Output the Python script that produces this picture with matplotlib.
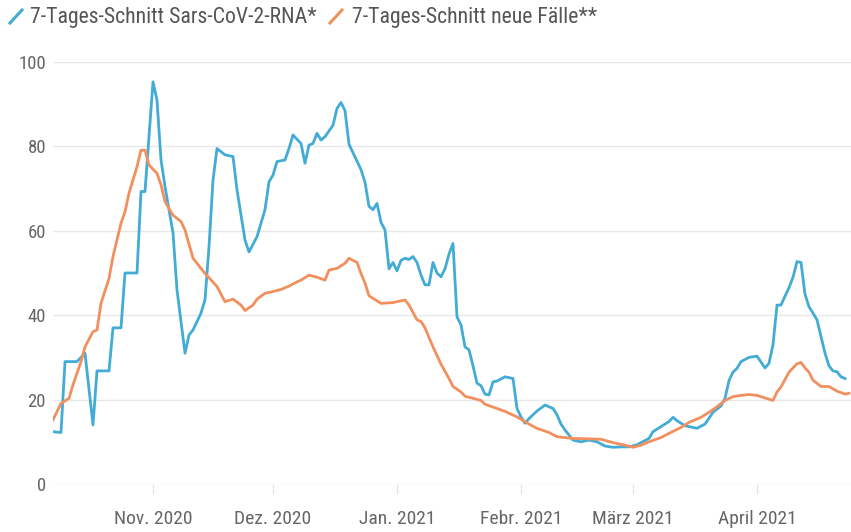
import pandas as pd
import matplotlib
matplotlib.use('Agg')
import matplotlib.pyplot as plt
from matplotlib.lines import Line2D

plt.rcParams['font.family'] = ['Roboto Condensed', 'Archivo Narrow', 'DejaVu Sans']

# 7-Tages-Schnitt Sars-CoV-2-RNA (Abwasser)
rna_dates = ['2020-10-07', '2020-10-09', '2020-10-10', '2020-10-13', '2020-10-15',
             '2020-10-17', '2020-10-18', '2020-10-21', '2020-10-22', '2020-10-24',
             '2020-10-25', '2020-10-28', '2020-10-29', '2020-10-30', '2020-11-01',
             '2020-11-02', '2020-11-03', '2020-11-04', '2020-11-06', '2020-11-07',
             '2020-11-09', '2020-11-10', '2020-11-11', '2020-11-13', '2020-11-14',
             '2020-11-15', '2020-11-16', '2020-11-17', '2020-11-19', '2020-11-21',
             '2020-11-22', '2020-11-24', '2020-11-25', '2020-11-27', '2020-11-29',
             '2020-11-30', '2020-12-01', '2020-12-02', '2020-12-04', '2020-12-05',
             '2020-12-06', '2020-12-08', '2020-12-09', '2020-12-10', '2020-12-11',
             '2020-12-12', '2020-12-13', '2020-12-14', '2020-12-16', '2020-12-17',
             '2020-12-18', '2020-12-19', '2020-12-20', '2020-12-21', '2020-12-23',
             '2020-12-24', '2020-12-25', '2020-12-26', '2020-12-27', '2020-12-28',
             '2020-12-29', '2020-12-30', '2020-12-31', '2021-01-01', '2021-01-02',
             '2021-01-03', '2021-01-04', '2021-01-05', '2021-01-06', '2021-01-07',
             '2021-01-08', '2021-01-09', '2021-01-10', '2021-01-11', '2021-01-12',
             '2021-01-13', '2021-01-14', '2021-01-15', '2021-01-16', '2021-01-17',
             '2021-01-18', '2021-01-19', '2021-01-20', '2021-01-21', '2021-01-22',
             '2021-01-23', '2021-01-24', '2021-01-25', '2021-01-26', '2021-01-28',
             '2021-01-30', '2021-01-31', '2021-02-01', '2021-02-02', '2021-02-03',
             '2021-02-05', '2021-02-07', '2021-02-09', '2021-02-10', '2021-02-11',
             '2021-02-12', '2021-02-14', '2021-02-16', '2021-02-18', '2021-02-20',
             '2021-02-22', '2021-02-24', '2021-02-26', '2021-02-28', '2021-03-02',
             '2021-03-04', '2021-03-05', '2021-03-06', '2021-03-08', '2021-03-10',
             '2021-03-11', '2021-03-12', '2021-03-14', '2021-03-17', '2021-03-19',
             '2021-03-21', '2021-03-23', '2021-03-24', '2021-03-25', '2021-03-26',
             '2021-03-27', '2021-03-28', '2021-03-30', '2021-04-01', '2021-04-03',
             '2021-04-04', '2021-04-05', '2021-04-06', '2021-04-07', '2021-04-08',
             '2021-04-09', '2021-04-10', '2021-04-11', '2021-04-12', '2021-04-13',
             '2021-04-14', '2021-04-15', '2021-04-16', '2021-04-17', '2021-04-18',
             '2021-04-19', '2021-04-20', '2021-04-21', '2021-04-22', '2021-04-23']
rna_values = [12.4, 12.2, 29.0, 29.0, 31.0,
              14.0, 26.8, 26.8, 37.0, 37.0,
              50.0, 50.0, 69.3, 69.3, 95.3,
              91.0, 76.8, 70.5, 59.5, 46.0,
              31.0, 35.3, 36.5, 40.5, 43.6,
              56.2, 72.0, 79.5, 78.0, 77.6,
              69.7, 57.8, 55.0, 58.6, 65.0,
              71.6, 73.2, 76.4, 76.8, 79.5,
              82.7, 80.7, 76.0, 80.3, 80.7,
              83.1, 81.5, 82.3, 85.0, 89.0,
              90.4, 88.5, 80.5, 78.5, 74.5,
              71.5, 65.8, 65.0, 66.5, 62.0,
              60.2, 51.0, 52.5, 50.5, 53.0,
              53.5, 53.2, 53.9, 52.5, 49.5,
              47.2, 47.2, 52.5, 50.0, 49.1,
              51.0, 54.5, 57.0, 39.6, 37.7,
              32.5, 31.8, 28.0, 23.9, 23.3,
              21.3, 21.1, 24.2, 24.4, 25.4,
              25.0, 17.9, 15.9, 14.4, 15.5,
              17.3, 18.7, 17.9, 16.4, 14.2,
              12.8, 10.4, 10.0, 10.4, 10.0,
              9.0, 8.7, 8.8, 8.8, 9.3,
              10.3, 10.8, 12.4, 13.6, 14.8,
              15.8, 15.0, 13.8, 13.2, 14.2,
              17.0, 18.5, 20.3, 24.5, 26.5,
              27.4, 29.0, 30.0, 30.3, 27.5,
              28.6, 33.0, 42.4, 42.4, 44.5,
              46.5, 49.0, 52.7, 52.5, 45.0,
              42.0, 40.5, 38.9, 35.0, 31.0,
              28.0, 26.8, 26.6, 25.4, 25.0]

# 7-Tages-Schnitt neue Fälle
cases_dates = ['2020-10-07', '2020-10-09', '2020-10-11', '2020-10-12', '2020-10-14',
               '2020-10-15', '2020-10-17', '2020-10-18', '2020-10-19', '2020-10-21',
               '2020-10-22', '2020-10-24', '2020-10-25', '2020-10-26', '2020-10-28',
               '2020-10-29', '2020-10-30', '2020-10-31', '2020-11-02', '2020-11-03',
               '2020-11-04', '2020-11-06', '2020-11-08', '2020-11-09', '2020-11-11',
               '2020-11-14', '2020-11-17', '2020-11-19', '2020-11-21', '2020-11-23',
               '2020-11-24', '2020-11-26', '2020-11-27', '2020-11-29', '2020-12-01',
               '2020-12-03', '2020-12-05', '2020-12-07', '2020-12-08', '2020-12-10',
               '2020-12-12', '2020-12-14', '2020-12-15', '2020-12-17', '2020-12-19',
               '2020-12-20', '2020-12-22', '2020-12-23', '2020-12-24', '2020-12-25',
               '2020-12-26', '2020-12-28', '2020-12-31', '2021-01-03', '2021-01-04',
               '2021-01-06', '2021-01-07', '2021-01-08', '2021-01-10', '2021-01-12',
               '2021-01-14', '2021-01-15', '2021-01-17', '2021-01-18', '2021-01-20',
               '2021-01-22', '2021-01-23', '2021-01-26', '2021-01-28', '2021-01-31',
               '2021-02-03', '2021-02-05', '2021-02-08', '2021-02-10', '2021-02-14',
               '2021-02-18', '2021-02-21', '2021-02-24', '2021-02-27', '2021-03-01',
               '2021-03-03', '2021-03-05', '2021-03-08', '2021-03-10', '2021-03-13',
               '2021-03-15', '2021-03-18', '2021-03-20', '2021-03-22', '2021-03-24',
               '2021-03-26', '2021-03-28', '2021-03-30', '2021-04-01', '2021-04-03',
               '2021-04-05', '2021-04-06', '2021-04-07', '2021-04-09', '2021-04-11',
               '2021-04-12', '2021-04-13', '2021-04-14', '2021-04-15', '2021-04-17',
               '2021-04-19', '2021-04-21', '2021-04-23', '2021-04-24']
cases_values = [15.2, 19.1, 20.3, 23.5, 29.0,
                32.5, 36.1, 36.5, 42.8, 48.7,
                53.9, 61.8, 64.5, 68.9, 75.2,
                79.1, 79.1, 75.6, 73.6, 70.9,
                66.9, 63.7, 62.2, 60.2, 53.5,
                49.9, 46.8, 43.2, 43.8, 42.4,
                41.1, 42.4, 43.8, 45.2, 45.6,
                46.1, 46.9, 47.9, 48.3, 49.5,
                49.0, 48.3, 50.7, 51.1, 52.3,
                53.5, 52.5, 49.9, 47.6, 44.6,
                44.0, 42.8, 43.0, 43.6, 42.4,
                38.9, 38.5, 37.0, 32.5, 28.4,
                25.0, 23.1, 21.8, 20.8, 20.3,
                19.8, 18.9, 17.9, 17.2, 15.9,
                14.2, 13.2, 12.2, 11.2, 10.8,
                10.7, 10.6, 9.8, 9.2, 8.7,
                9.2, 10.0, 11.0, 12.0, 13.4,
                14.6, 15.8, 17.0, 18.3, 19.8,
                20.7, 21.0, 21.2, 21.0, 20.4,
                19.8, 21.8, 23.0, 26.5, 28.5,
                28.8, 27.5, 26.5, 24.6, 23.1,
                23.1, 22.0, 21.3, 21.5]

month_ticks = ['2020-11-01', '2020-12-01', '2021-01-01', '2021-02-01', '2021-03-01', '2021-04-01']
month_labels = ['Nov. 2020', 'Dez. 2020', 'Jan. 2021', 'Febr. 2021', 'März 2021', 'April 2021']
y_ticks = [0, 20, 40, 60, 80, 100]

labels = ['7-Tages-Schnitt Sars-CoV-2-RNA*', '7-Tages-Schnitt neue Fälle**']
blue = '#42abd6'
orange = '#f28f5e'
grey = '#666666'

W, H = 851, 532
fig = plt.figure(figsize=(W / 100, H / 100), dpi=100)
ax = fig.add_axes([53 / W, 48 / H, (W - 53) / W, 422 / H])

ax.plot(pd.to_datetime(rna_dates), rna_values, color=blue, lw=2.0,
        solid_joinstyle='round', zorder=3)
ax.plot(pd.to_datetime(cases_dates), cases_values, color=orange, lw=2.0,
        solid_joinstyle='round', zorder=4)

ax.set_xlim(pd.Timestamp('2020-10-07'), pd.Timestamp('2021-04-24 12:00'))
ax.set_ylim(0, 100)

ax.set_xticks(pd.to_datetime(month_ticks))
ax.set_xticklabels(month_labels)
ax.set_yticks(y_ticks)
ax.tick_params(axis='x', length=7, width=1, color='#e6e6e6', pad=12,
               labelsize=14, labelcolor=grey)
ax.tick_params(axis='y', length=0, pad=5, labelsize=13.5, labelcolor=grey)

for s in ax.spines.values():
    s.set_visible(False)
ax.grid(axis='y', color='#e8e8e8', lw=1)
ax.set_axisbelow(True)

# legend at the top with slanted line icons
fig.add_artist(Line2D([10 / W, 22 / W], [1 - 23 / H, 1 - 10 / H], color=blue, lw=2.2))
fig.text(30 / W, 1 - 17 / H, labels[0], fontsize=15.7, color='#555555', va='center')
fig.add_artist(Line2D([330 / W, 342 / W], [1 - 23 / H, 1 - 10 / H], color=orange, lw=2.2))
fig.text(352 / W, 1 - 17 / H, labels[1], fontsize=15.7, color='#555555', va='center')

fig.savefig('out.png', dpi=100, facecolor='white')
